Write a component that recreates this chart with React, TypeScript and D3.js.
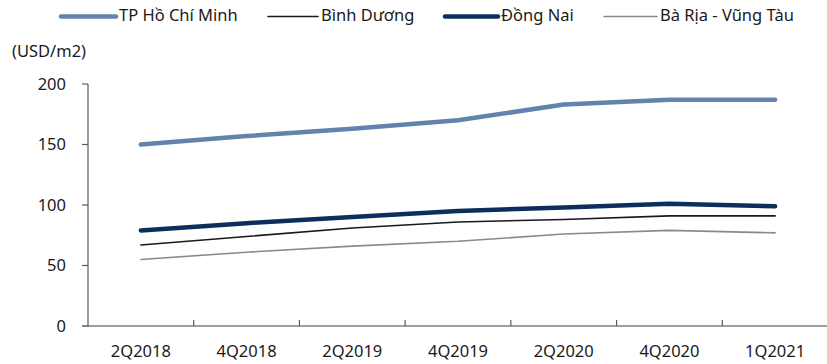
import React from "react";
import * as d3 from "d3";

const categories = ["2Q2018", "4Q2018", "2Q2019", "4Q2019", "2Q2020", "4Q2020", "1Q2021"];
const hcm = [150, 157, 163, 170, 183, 187, 187];
const binhDuong = [67, 74, 81, 86, 88, 91, 91];
const dongNai = [79, 85, 90, 95, 98, 101, 99];
const baRia = [55, 61, 66, 70, 76, 79, 77];
const yTicks = [0, 50, 100, 150, 200];
const seriesNames = ["TP Hồ Chí Minh", "Bình Dương", "Đồng Nai", "Bà Rịa - Vũng Tàu"];

const W = 827;
const H = 364;
const FONT = "'Noto Sans', sans-serif";

const seriesStyles = [
  { color: "#6283ab", width: 4.5 },
  { color: "#1a1a1a", width: 1.6 },
  { color: "#0b2e5c", width: 4.5 },
  { color: "#8a8a8a", width: 1.6 },
];
const legendX = [61, 268, 445, 604];
const legendSwatch = [55, 50, 53, 53];

export default function App() {
  const x = d3.scaleBand<string>().domain(categories).range([88, 828]).padding(0);
  const y = d3.scaleLinear().domain([0, 200]).range([326, 84]);
  const data = [hcm, binhDuong, dongNai, baRia];
  const line = d3
    .line<number>()
    .x((_, i) => (x(categories[i]) as number) + x.bandwidth() / 2)
    .y((d) => y(d));

  const boundaries = categories.map((c) => x(c) as number).concat([828]);

  return (
    <svg width={W} height={H} style={{ position: "absolute", left: 0, top: 0, background: "#fff" }}>
      {/* legend */}
      {seriesNames.map((n, i) => (
        <g key={n}>
          <line
            x1={legendX[i]}
            x2={legendX[i] + legendSwatch[i]}
            y1={16.5}
            y2={16.5}
            stroke={seriesStyles[i].color}
            strokeWidth={seriesStyles[i].width}
            strokeLinecap="round"
          />
          <text x={legendX[i] + legendSwatch[i] + 3} y={21} fontFamily={FONT} fontSize={16.5} fill="#1a1a1a">
            {n}
          </text>
        </g>
      ))}
      {/* unit */}
      <text x={12} y={57} fontFamily={FONT} fontSize={16.5} fill="#1a1a1a">
        (USD/m2)
      </text>
      {/* y axis */}
      <line x1={88} x2={88} y1={y(200)} y2={y(0) + 1} stroke="#595959" strokeWidth={1.2} />
      {yTicks.map((t) => (
        <g key={t}>
          <line x1={82} x2={88} y1={y(t)} y2={y(t)} stroke="#595959" strokeWidth={1.2} />
          <text
            x={66}
            y={y(t)}
            dy="0.36em"
            textAnchor="end"
            fontFamily={FONT}
            fontSize={16.5}
            fill="#1a1a1a"
          >
            {t}
          </text>
        </g>
      ))}
      {/* x axis */}
      <line x1={82} x2={827} y1={y(0)} y2={y(0)} stroke="#7f7f7f" strokeWidth={1.4} />
      {boundaries.slice(1).map((b, i) => (
        <line key={i} x1={b} x2={b} y1={y(0) - 6} y2={y(0)} stroke="#595959" strokeWidth={1.2} />
      ))}
      {categories.map((c) => (
        <text
          key={c}
          x={(x(c) as number) + x.bandwidth() / 2}
          y={357}
          textAnchor="middle"
          fontFamily={FONT}
          fontSize={16.5}
          fill="#1a1a1a"
        >
          {c}
        </text>
      ))}
      {/* lines */}
      {data.map((d, i) => (
        <path
          key={i}
          d={line(d) || ""}
          fill="none"
          stroke={seriesStyles[i].color}
          strokeWidth={seriesStyles[i].width}
          strokeLinecap="round"
          strokeLinejoin="round"
        />
      ))}
    </svg>
  );
}
